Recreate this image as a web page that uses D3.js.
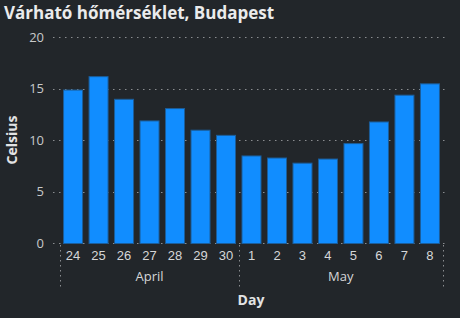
<!DOCTYPE html>
<html>
<head>
<meta charset="utf-8">
<script src="https://cdn.jsdelivr.net/npm/d3@7"></script>
<style>
  body { margin: 0; background: #22262a; }
  svg { display: block; font-family: "Open Sans", "DejaVu Sans", sans-serif; }
</style>
</head>
<body>
<div id="chart"></div>
<script>
const days = ["24", "25", "26", "27", "28", "29", "30", "1", "2", "3", "4", "5", "6", "7", "8"]
const months = ["April", "April", "April", "April", "April", "April", "April", "May", "May", "May", "May", "May", "May", "May", "May"]
const temps = [14.9, 16.2, 14.0, 11.9, 13.1, 11.0, 10.5, 8.5, 8.3, 7.8, 8.2, 9.7, 11.8, 14.4, 15.5]
const yTicks = [0, 5, 10, 15, 20]

const dimensions = {
    width: 460,
    height: 318,
    margin: {top: 37, right: 17.25, bottom: 75, left: 60.25},
}
const keys = days.map((d, i) => i)

const svg = d3.select("#chart")
    .append("svg")
    .attr("width", dimensions.width)
    .attr("height", dimensions.height)

svg.append("rect")
    .attr("width", dimensions.width)
    .attr("height", dimensions.height)
    .attr("fill", "#22262a")

const xScale = d3.scaleBand()
    .domain(keys)
    .range([dimensions.margin.left, dimensions.width - dimensions.margin.right])
    .paddingInner(0.215)
    .paddingOuter(0.11)
const yScale = d3.scaleLinear()
    .domain([0, 20])
    .range([dimensions.height - dimensions.margin.bottom, dimensions.margin.top])

// gridlines
svg.append("g")
    .selectAll("line")
    .data(yTicks)
    .join("line")
    .attr("x1", 53)
    .attr("x2", 448)
    .attr("y1", d => Math.round(yScale(d)) + 0.5)
    .attr("y2", d => Math.round(yScale(d)) + 0.5)
    .attr("stroke", "#8a8d90")
    .attr("stroke-width", 1)
    .attr("stroke-dasharray", "1.5,4.5")

// y axis labels
const yAxis = svg.append("g")
    .attr("transform", "translate(44,0)")
    .call(d3.axisLeft(yScale).tickValues(yTicks).tickSize(0).tickPadding(0))
yAxis.select(".domain").remove()
yAxis.selectAll("text")
    .attr("fill", "#c8c9ca")
    .attr("font-size", 13)
    .attr("font-family", "\"Open Sans\", sans-serif")

// bars
svg.append("g")
    .selectAll("rect")
    .data(temps)
    .join("rect")
    .attr("x", (d, i) => xScale(i) + 0.5)
    .attr("y", d => yScale(d) + 0.5)
    .attr("width", xScale.bandwidth() - 1)
    .attr("height", d => yScale(0) - yScale(d))
    .attr("fill", "#118dff")
    .attr("stroke", "#1c5d99")
    .attr("stroke-width", 1)

// day labels
const xAxis = svg.append("g")
    .attr("transform", "translate(0,248)")
    .call(d3.axisBottom(xScale).tickFormat(i => days[i]).tickSize(0).tickPadding(0))
xAxis.select(".domain").remove()
xAxis.selectAll("text")
    .attr("fill", "#d6d7d8")
    .attr("font-size", 13)
    .attr("dy", "0.9em")

// month groups
const groups = d3.groups(keys, i => months[i])
const separators = [xScale(0) - xScale.step() * xScale.paddingInner() / 2 - 0.5]
groups.forEach(([m, idx]) => {
    const last = idx[idx.length - 1]
    separators.push(xScale(last) + xScale.bandwidth() + xScale.step() * xScale.paddingInner() / 2)
})
svg.append("g")
    .selectAll("line")
    .data(separators)
    .join("line")
    .attr("x1", d => Math.round(d) + 0.5)
    .attr("x2", d => Math.round(d) + 0.5)
    .attr("y1", 245)
    .attr("y2", 289)
    .attr("stroke", "#8a8d90")
    .attr("stroke-dasharray", "1.5,3.5")

svg.append("g")
    .selectAll("text")
    .data(groups)
    .join("text")
    .attr("x", ([m, idx]) => (xScale(idx[0]) + xScale(idx[idx.length - 1]) + xScale.bandwidth()) / 2)
    .attr("y", 281)
    .attr("text-anchor", "middle")
    .attr("fill", "#d6d7d8")
    .attr("font-size", 13)
    .text(([m]) => m)

// axis titles
svg.append("text")
    .attr("x", 251)
    .attr("y", 305)
    .attr("text-anchor", "middle")
    .attr("fill", "#e2e3e4")
    .attr("font-size", 14)
    .attr("font-weight", "bold")
    .text("Day")
svg.append("text")
    .attr("transform", "translate(17,140) rotate(-90)")
    .attr("text-anchor", "middle")
    .attr("fill", "#e2e3e4")
    .attr("font-size", 14)
    .attr("font-weight", "bold")
    .text("Celsius")

// title
svg.append("text")
    .attr("x", 4)
    .attr("y", 19)
    .attr("fill", "#eaebec")
    .attr("font-size", 17)
    .attr("font-weight", "bold")
    .text("Várható hőmérséklet, Budapest")
</script>
</body>
</html>
